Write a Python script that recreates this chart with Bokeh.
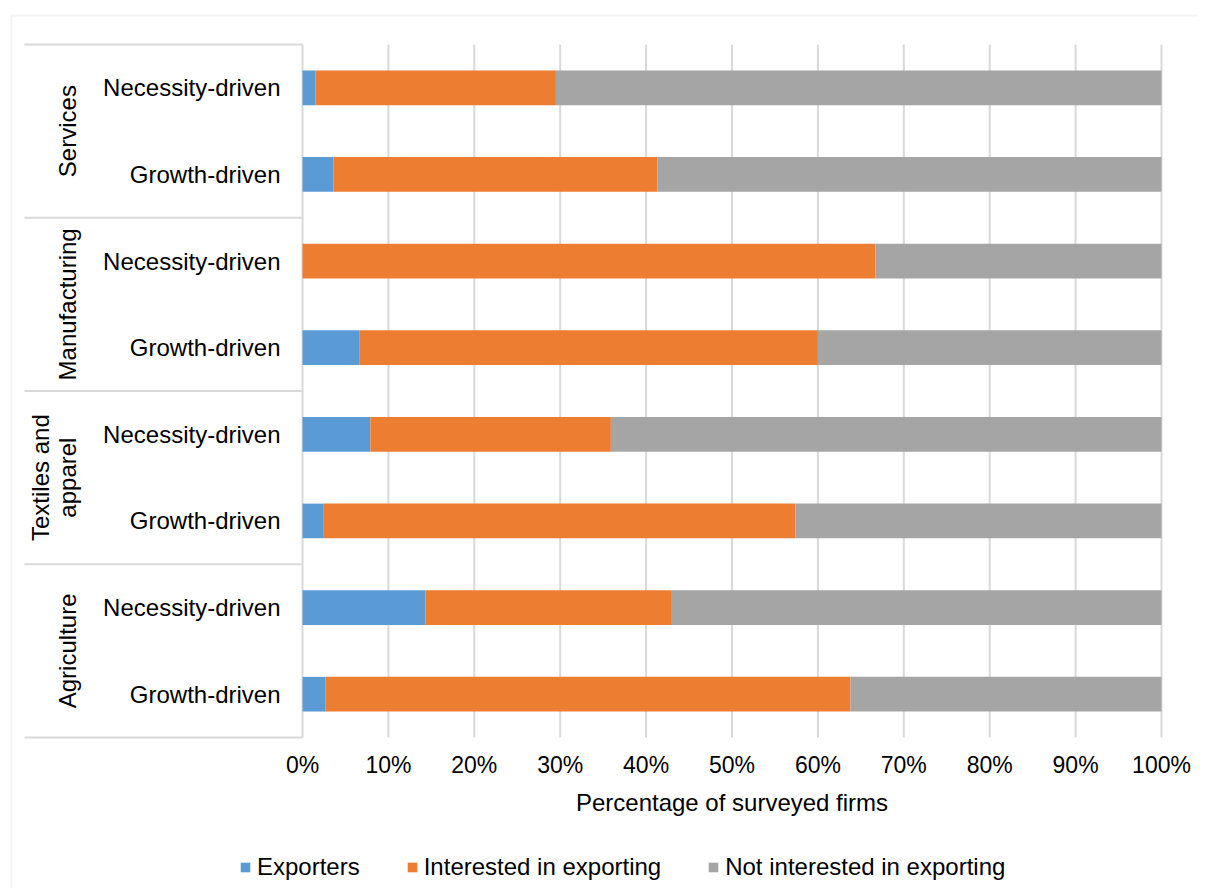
import math
from bokeh.plotting import figure
from bokeh.models import (ColumnDataSource, Range1d, Legend, LegendItem, PolyAnnotation)
from bokeh.core.properties import value
from bokeh.embed import file_html
from bokeh.resources import INLINE

# ---------------- data (bottom row first, as in the chart) ----------------
sectors = ["Agriculture", "Textiles and\napparel", "Manufacturing", "Services"]
drivers = ["Growth-driven", "Necessity-driven"]
exporters = [2.7, 14.3, 2.4, 7.9, 6.6, 0.0, 3.6, 1.5]
interested = [61.1, 28.6, 55.0, 28.0, 53.4, 66.7, 37.7, 28.0]
not_interested = [36.2, 57.1, 42.6, 64.1, 40.0, 33.3, 58.7, 70.5]
series = ["Exporters", "Interested in exporting", "Not interested in exporting"]
colors = ["#5B9BD5", "#ED7D31", "#A5A5A5"]
x_ticks = list(range(0, 101, 10))
x_tick_labels = [f"{t}%" for t in x_ticks]
x_title = "Percentage of surveyed firms"

# ---------------- derived ----------------
rows_driver = [d for s in sectors for d in drivers]
n_rows = len(rows_driver)
pos = [i + 0.5 for i in range(n_rows)]
n_sub = len(drivers)
group_centers = [sum(pos[g * n_sub:(g + 1) * n_sub]) / n_sub for g in range(len(sectors))]
group_edges = [g * n_sub for g in range(len(sectors) + 1)]

# ---------------- layout (pixels) ----------------
FONT = value("Liberation Sans")
GRID = "#D9D9D9"
TXT = "#000000"
W, H = 1198, 888
PX0, PX100 = 302, 1161      # screen x of 0% and 100%
PY_TOP, PY_BOT = 44, 737    # screen y of plot area top / bottom
kx = (PX100 - PX0) / (x_ticks[-1] - x_ticks[0])
ky = (PY_BOT - PY_TOP) / n_rows
x_range = Range1d(x_ticks[0] - PX0 / kx, x_ticks[0] + (W - PX0) / kx)
y_range = Range1d(-(H - PY_BOT) / ky, n_rows + PY_TOP / ky)

p = figure(width=W, height=H, x_range=x_range, y_range=y_range,
           output_backend="svg", toolbar_location=None,
           x_axis_location=None, y_axis_location=None,
           min_border=0, min_border_left=0, min_border_right=0,
           min_border_top=0, min_border_bottom=0)
p.outline_line_color = None
p.background_fill_color = "white"
p.border_fill_color = "white"
for g in list(p.xgrid) + list(p.ygrid):
    g.visible = False

# outer chart border (left and top edges visible)
p.add_layout(PolyAnnotation(xs=[11, 11], ys=[15, H + 20], xs_units="canvas", ys_units="canvas",
                            fill_alpha=0, line_color=GRID, line_width=2))
p.add_layout(PolyAnnotation(xs=[11, W + 20], ys=[15, 15], xs_units="canvas", ys_units="canvas",
                            fill_alpha=0, line_color=GRID, line_width=2))

# gridlines (0 % .. 100 %)
p.segment(x0=x_ticks, x1=x_ticks, y0=[0] * len(x_ticks), y1=[n_rows] * len(x_ticks),
          line_color=GRID, line_width=2)

# table lines of the category axis
p.ray(x=[x_ticks[0]] * len(group_edges), y=group_edges, length=PX0 - 24, angle=math.pi,
      length_units="screen", line_color=GRID, line_width=2)

# bars
src = ColumnDataSource(dict(pos=pos, exp=exporters, intr=interested, notint=not_interested))
rs = p.hbar_stack(["exp", "intr", "notint"], y="pos", height=0.4, color=colors,
                  line_width=0, source=src)

# x tick labels and title
p.text(x=x_ticks, y=[0] * len(x_ticks), text=x_tick_labels, y_offset=27,
       text_align="center", text_baseline="middle", text_font=FONT,
       text_font_size="23px", text_color=TXT)
p.text(x=[(x_ticks[0] + x_ticks[-1]) / 2], y=[0], text=[x_title], y_offset=65,
       text_align="center", text_baseline="middle", text_font=FONT,
       text_font_size="24px", text_color=TXT)

# category labels
p.text(x=[x_ticks[0]] * n_rows, y=pos, text=rows_driver, x_offset=-22,
       text_align="right", text_baseline="middle", text_font=FONT,
       text_font_size="24px", text_color=TXT)
p.text(x=[x_ticks[0]] * len(sectors), y=group_centers, text=sectors, x_offset=-222,
       angle=90, angle_units="deg", text_align="center", text_baseline="bottom",
       text_font=FONT, text_font_size="24px", text_color=TXT, text_line_height=1.0)

legend = Legend(items=[LegendItem(label=s, renderers=[r]) for s, r in zip(series, rs)],
                location=(239, H - 881), orientation="horizontal", glyph_width=12,
                glyph_height=12, label_standoff=6, spacing=46, padding=0, margin=0,
                border_line_color=None, background_fill_alpha=0,
                label_text_font="Liberation Sans", label_text_font_size="24px",
                label_text_color=TXT)
p.add_layout(legend)

open("out.html", "w").write(file_html(p, INLINE))
